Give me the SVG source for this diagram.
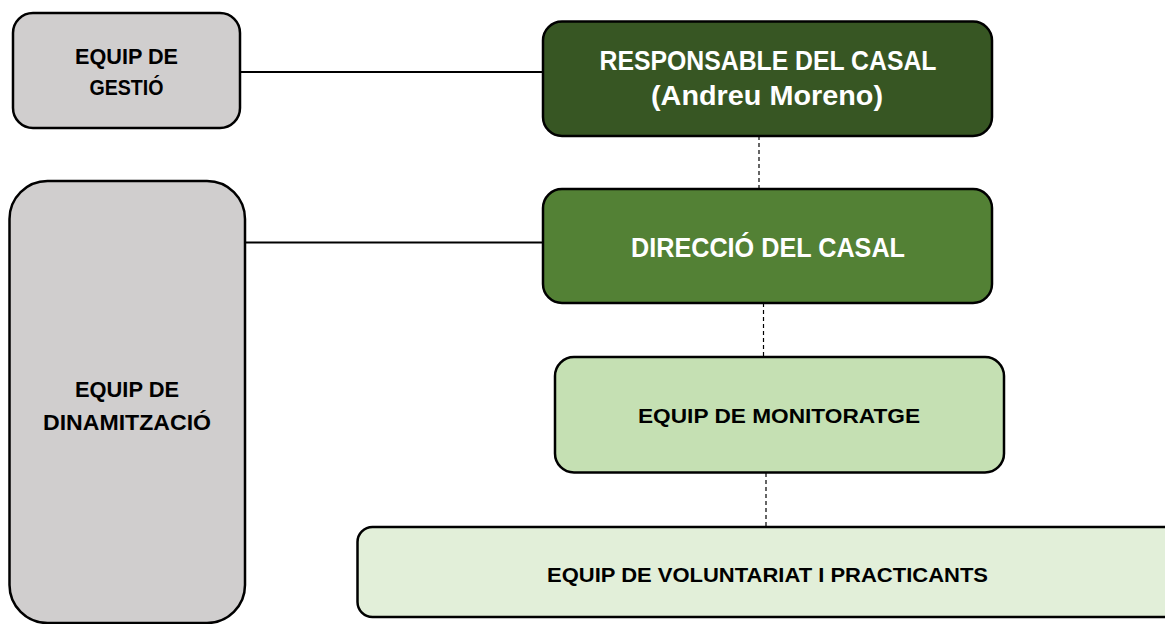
<svg xmlns="http://www.w3.org/2000/svg" width="1165" height="624" viewBox="0 0 1165 624">
<style>
.box{stroke:#000;stroke-width:2.5}
.gray{fill:#d0cece}
.dark{fill:#375623}
.mid{fill:#538135}
.light{fill:#c5e0b3}
.lighter{fill:#e2efd9}
text{font-family:"Liberation Sans",Arial,sans-serif;font-weight:bold;text-anchor:middle}
.w{fill:#fff}
.k{fill:#000}
.solid{stroke:#000;stroke-width:2;fill:none}
.dash{stroke:#000;stroke-width:1.2;stroke-dasharray:4 3;fill:none}
</style>
<rect width="1165" height="624" fill="#fff"/>
<g id="connectors">
<line class="solid" x1="240" y1="72" x2="543" y2="72"/>
<line class="solid" x1="245" y1="242.5" x2="543" y2="242.5"/>
<line class="dash" x1="759" y1="136" x2="759" y2="189"/>
<line class="dash" x1="763.5" y1="303" x2="763.5" y2="357"/>
<line class="dash" x1="766" y1="473" x2="766" y2="527"/>
</g>
<g id="gestio">
<rect class="box gray" x="13" y="13" width="227" height="115" rx="20" ry="20"/>
<text class="k" x="126.5" y="64" font-size="21.5" textLength="103" lengthAdjust="spacingAndGlyphs">EQUIP DE</text>
<text class="k" x="126.5" y="95" font-size="21.5" textLength="74" lengthAdjust="spacingAndGlyphs">GESTIÓ</text>
</g>
<g id="dinamitzacio">
<rect class="box gray" x="9.5" y="181" width="235.5" height="442" rx="38" ry="38"/>
<text class="k" x="127" y="396.5" font-size="21.5" textLength="104" lengthAdjust="spacingAndGlyphs">EQUIP DE</text>
<text class="k" x="127" y="430" font-size="21.5" textLength="168" lengthAdjust="spacingAndGlyphs">DINAMITZACIÓ</text>
</g>
<g id="responsable">
<rect class="box dark" x="543" y="21.5" width="449" height="114.5" rx="19" ry="19"/>
<text class="w" x="768" y="70" font-size="27.5" textLength="337" lengthAdjust="spacingAndGlyphs">RESPONSABLE DEL CASAL</text>
<text class="w" x="767" y="105" font-size="27.5" textLength="232" lengthAdjust="spacingAndGlyphs">(Andreu Moreno)</text>
</g>
<g id="direccio">
<rect class="box mid" x="543" y="189" width="449" height="114" rx="19" ry="19"/>
<text class="w" x="768" y="256.5" font-size="27.5" textLength="274" lengthAdjust="spacingAndGlyphs">DIRECCIÓ DEL CASAL</text>
</g>
<g id="monitoratge">
<rect class="box light" x="555" y="357" width="449" height="115.5" rx="19" ry="19"/>
<text class="k" x="779" y="422.5" font-size="20.5" textLength="282" lengthAdjust="spacingAndGlyphs">EQUIP DE MONITORATGE</text>
</g>
<g id="voluntariat">
<rect class="box lighter" x="357.5" y="527" width="830" height="90" rx="15" ry="15"/>
<text class="k" x="767.5" y="582" font-size="21" textLength="441" lengthAdjust="spacingAndGlyphs">EQUIP DE VOLUNTARIAT I PRACTICANTS</text>
</g>
</svg>
